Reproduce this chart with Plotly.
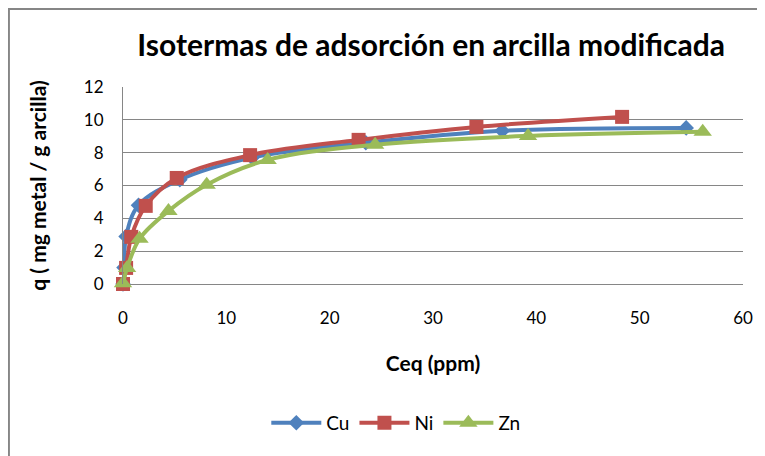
import plotly.graph_objects as go

TITLE = "Isotermas de adsorción en arcilla modificada"
X_TITLE = "Ceq (ppm)"
Y_TITLE = "q ( mg metal / g arcilla)"

cu_x = [0.0, 0.1, 0.3, 1.5, 5.5, 12.5, 23.5, 36.7, 54.5]
cu_y = [0.0, 1.0, 2.9, 4.8, 6.35, 7.7, 8.6, 9.33, 9.51]

ni_x = [0.0, 0.3, 0.8, 2.2, 5.2, 12.3, 22.8, 34.2, 48.3]
ni_y = [0.0, 0.98, 2.87, 4.76, 6.46, 7.85, 8.78, 9.57, 10.18]

zn_x = [0.0, 0.4, 1.6, 4.4, 8.1, 14.0, 24.4, 39.2, 56.1]
zn_y = [0.05, 0.98, 2.75, 4.45, 6.05, 7.56, 8.48, 9.02, 9.27]

SERIES = [
    ("Cu", cu_x, cu_y, "#4f81bd", "diamond", 12),
    ("Ni", ni_x, ni_y, "#c0504d", "square", 14),
    ("Zn", zn_x, zn_y, "#9bbb59", "triangle-up", 16),
]

FONT = "Lato, Open Sans, sans-serif"
GRID = "#868686"

fig = go.Figure()
for name, xs, ys, color, symbol, size in SERIES:
    fig.add_trace(
        go.Scatter(
            x=xs,
            y=ys,
            name=name,
            mode="lines+markers",
            line={"color": color, "width": 4, "shape": "spline", "smoothing": 1},
            marker={"symbol": symbol, "size": size, "color": color},
            cliponaxis=False,
        )
    )

# the page body adds an 8px margin, so the figure is 8px smaller than the window
fig.update_layout(
    width=757,
    height=448,
    margin={"l": 115, "r": 22, "t": 79, "b": 172},
    paper_bgcolor="white",
    plot_bgcolor="white",
    font={"family": FONT, "size": 17, "color": "#000000"},
    title={
        "text": f"<b>{TITLE}</b>",
        "x": 0.559,
        "xanchor": "center",
        "y": 0.917,
        "yanchor": "middle",
        "font": {"size": 30, "family": FONT},
    },
    xaxis={
        "range": [0, 60],
        "dtick": 10,
        "showgrid": False,
        "showline": False,
        "zeroline": False,
        "ticks": "",
        "ticklabelstandoff": 22,
        "title": {"text": f"<b>{X_TITLE}</b>", "font": {"size": 21}, "standoff": 29},
    },
    yaxis={
        "range": [0, 12],
        "dtick": 2,
        "showgrid": True,
        "gridcolor": GRID,
        "gridwidth": 1,
        "showline": True,
        "linecolor": GRID,
        "linewidth": 1,
        "zeroline": True,
        "zerolinecolor": GRID,
        "zerolinewidth": 1,
        "ticks": "",
        "ticklabelstandoff": 15,
        "title": {"text": f"<b>{Y_TITLE}</b>", "font": {"size": 21}, "standoff": 31},
    },
    legend={
        "orientation": "h",
        "x": 0.44,
        "xanchor": "center",
        "y": -0.705,
        "yanchor": "middle",
        "font": {"size": 19},
        "itemwidth": 50,
    },
    showlegend=True,
)

# outer chart frame (top and left edges are visible in the original)
fig.add_shape(
    type="rect",
    xref="paper",
    yref="paper",
    x0=-0.184,
    x1=1.05,
    y0=-1.2,
    y1=1.396,
    line={"color": GRID, "width": 2},
    fillcolor="rgba(0,0,0,0)",
    layer="below",
)

fig.write_html("out.html")
